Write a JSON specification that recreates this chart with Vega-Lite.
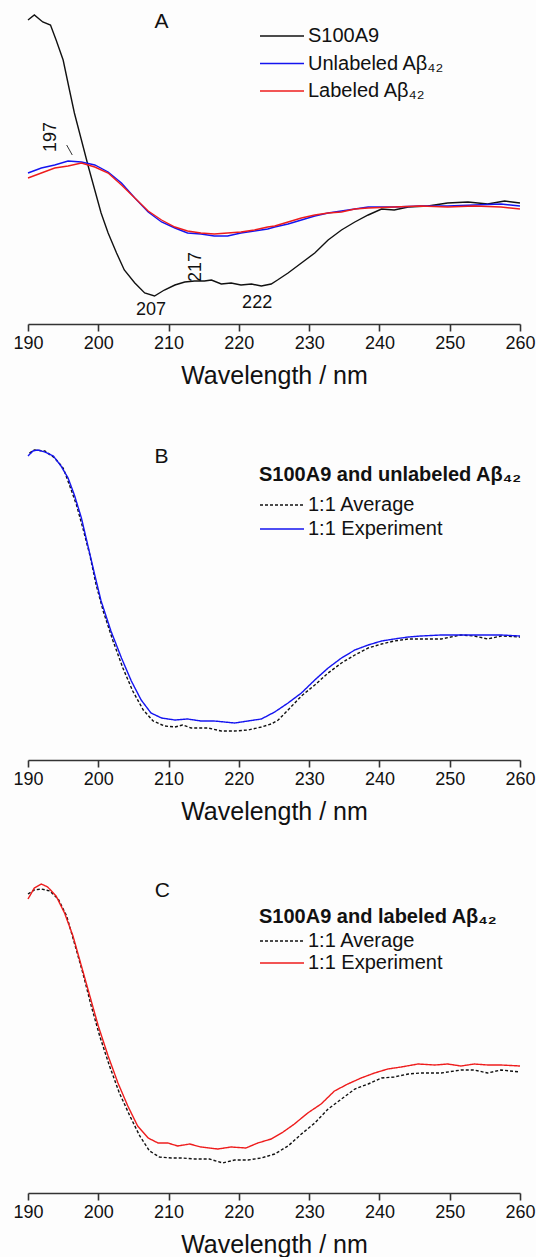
{
  "$schema": "https://vega.github.io/schema/vega-lite/v6.json",
  "padding": {"left": 12, "top": 4, "right": 0, "bottom": 0},
  "spacing": 52,
  "background": "#fdfdfd",
  "datasets": {
    "a": [
      {"nm": 190, "v": 18.4, "s": "S100A9"}, {"nm": 190.9, "v": 18.9, "s": "S100A9"}, {"nm": 192.1, "v": 18.2, "s": "S100A9"}, {"nm": 193.2, "v": 17.9, "s": "S100A9"}, {"nm": 194, "v": 16.4, "s": "S100A9"}, {"nm": 195, "v": 14.4, "s": "S100A9"}, {"nm": 195.9, "v": 11.4, "s": "S100A9"}, {"nm": 196.6, "v": 9.1, "s": "S100A9"}, {"nm": 197.6, "v": 6.4, "s": "S100A9"}, {"nm": 198.6, "v": 3.7, "s": "S100A9"}, {"nm": 199.5, "v": 1.4, "s": "S100A9"}, {"nm": 200.4, "v": -0.9, "s": "S100A9"}, {"nm": 201.4, "v": -2.9, "s": "S100A9"}, {"nm": 202.6, "v": -4.9, "s": "S100A9"}, {"nm": 203.7, "v": -6.6, "s": "S100A9"}, {"nm": 205.2, "v": -7.9, "s": "S100A9"}, {"nm": 206.6, "v": -8.9, "s": "S100A9"}, {"nm": 208, "v": -9.2, "s": "S100A9"}, {"nm": 209.4, "v": -8.6, "s": "S100A9"}, {"nm": 210.9, "v": -8.1, "s": "S100A9"}, {"nm": 212.3, "v": -7.8, "s": "S100A9"}, {"nm": 213.7, "v": -7.7, "s": "S100A9"}, {"nm": 215.1, "v": -7.7, "s": "S100A9"}, {"nm": 216.1, "v": -7.6, "s": "S100A9"}, {"nm": 217.5, "v": -8.0, "s": "S100A9"}, {"nm": 218.9, "v": -7.9, "s": "S100A9"}, {"nm": 220.3, "v": -8.1, "s": "S100A9"}, {"nm": 221.8, "v": -8.0, "s": "S100A9"}, {"nm": 223.2, "v": -8.2, "s": "S100A9"}, {"nm": 224.6, "v": -8.0, "s": "S100A9"}, {"nm": 225.5, "v": -7.6, "s": "S100A9"}, {"nm": 227, "v": -6.9, "s": "S100A9"}, {"nm": 228.9, "v": -5.9, "s": "S100A9"}, {"nm": 230.8, "v": -4.9, "s": "S100A9"}, {"nm": 232.7, "v": -3.6, "s": "S100A9"}, {"nm": 234.6, "v": -2.6, "s": "S100A9"}, {"nm": 236.5, "v": -1.8, "s": "S100A9"}, {"nm": 238.4, "v": -1.1, "s": "S100A9"}, {"nm": 240.3, "v": -0.5, "s": "S100A9"}, {"nm": 242.1, "v": -0.6, "s": "S100A9"}, {"nm": 244.1, "v": -0.3, "s": "S100A9"}, {"nm": 246.9, "v": -0.2, "s": "S100A9"}, {"nm": 249.7, "v": 0.1, "s": "S100A9"}, {"nm": 252.6, "v": 0.2, "s": "S100A9"}, {"nm": 255.4, "v": 0.0, "s": "S100A9"}, {"nm": 257.8, "v": 0.3, "s": "S100A9"}, {"nm": 260, "v": 0.1, "s": "S100A9"},
      {"nm": 190, "v": 3.1, "s": "Unlabeled Aβ₄₂"}, {"nm": 191.9, "v": 3.6, "s": "Unlabeled Aβ₄₂"}, {"nm": 193.8, "v": 3.9, "s": "Unlabeled Aβ₄₂"}, {"nm": 195.7, "v": 4.3, "s": "Unlabeled Aβ₄₂"}, {"nm": 197.6, "v": 4.2, "s": "Unlabeled Aβ₄₂"}, {"nm": 199.5, "v": 3.9, "s": "Unlabeled Aβ₄₂"}, {"nm": 201.4, "v": 3.2, "s": "Unlabeled Aβ₄₂"}, {"nm": 203.3, "v": 2.1, "s": "Unlabeled Aβ₄₂"}, {"nm": 205.2, "v": 0.6, "s": "Unlabeled Aβ₄₂"}, {"nm": 207.1, "v": -0.8, "s": "Unlabeled Aβ₄₂"}, {"nm": 209, "v": -1.8, "s": "Unlabeled Aβ₄₂"}, {"nm": 210.9, "v": -2.4, "s": "Unlabeled Aβ₄₂"}, {"nm": 212.7, "v": -2.9, "s": "Unlabeled Aβ₄₂"}, {"nm": 214.6, "v": -3.0, "s": "Unlabeled Aβ₄₂"}, {"nm": 216.5, "v": -3.2, "s": "Unlabeled Aβ₄₂"}, {"nm": 218.4, "v": -3.2, "s": "Unlabeled Aβ₄₂"}, {"nm": 220.3, "v": -2.9, "s": "Unlabeled Aβ₄₂"}, {"nm": 222.2, "v": -2.7, "s": "Unlabeled Aβ₄₂"}, {"nm": 224.1, "v": -2.5, "s": "Unlabeled Aβ₄₂"}, {"nm": 225.1, "v": -2.3, "s": "Unlabeled Aβ₄₂"}, {"nm": 227, "v": -2.0, "s": "Unlabeled Aβ₄₂"}, {"nm": 228.9, "v": -1.6, "s": "Unlabeled Aβ₄₂"}, {"nm": 230.8, "v": -1.2, "s": "Unlabeled Aβ₄₂"}, {"nm": 232.7, "v": -0.9, "s": "Unlabeled Aβ₄₂"}, {"nm": 234.6, "v": -0.7, "s": "Unlabeled Aβ₄₂"}, {"nm": 236.5, "v": -0.5, "s": "Unlabeled Aβ₄₂"}, {"nm": 238.4, "v": -0.3, "s": "Unlabeled Aβ₄₂"}, {"nm": 242.1, "v": -0.3, "s": "Unlabeled Aβ₄₂"}, {"nm": 245.9, "v": -0.2, "s": "Unlabeled Aβ₄₂"}, {"nm": 249.7, "v": -0.2, "s": "Unlabeled Aβ₄₂"}, {"nm": 253.5, "v": -0.1, "s": "Unlabeled Aβ₄₂"}, {"nm": 257.3, "v": 0.0, "s": "Unlabeled Aβ₄₂"}, {"nm": 260, "v": -0.2, "s": "Unlabeled Aβ₄₂"},
      {"nm": 190, "v": 2.6, "s": "Labeled Aβ₄₂"}, {"nm": 191.9, "v": 3.1, "s": "Labeled Aβ₄₂"}, {"nm": 193.8, "v": 3.6, "s": "Labeled Aβ₄₂"}, {"nm": 195.7, "v": 3.8, "s": "Labeled Aβ₄₂"}, {"nm": 197.6, "v": 4.1, "s": "Labeled Aβ₄₂"}, {"nm": 199.5, "v": 3.7, "s": "Labeled Aβ₄₂"}, {"nm": 201.4, "v": 3.1, "s": "Labeled Aβ₄₂"}, {"nm": 203.3, "v": 1.9, "s": "Labeled Aβ₄₂"}, {"nm": 205.2, "v": 0.6, "s": "Labeled Aβ₄₂"}, {"nm": 207.1, "v": -0.7, "s": "Labeled Aβ₄₂"}, {"nm": 209, "v": -1.6, "s": "Labeled Aβ₄₂"}, {"nm": 210.9, "v": -2.3, "s": "Labeled Aβ₄₂"}, {"nm": 212.7, "v": -2.7, "s": "Labeled Aβ₄₂"}, {"nm": 214.6, "v": -2.9, "s": "Labeled Aβ₄₂"}, {"nm": 216.5, "v": -3.0, "s": "Labeled Aβ₄₂"}, {"nm": 218.4, "v": -2.9, "s": "Labeled Aβ₄₂"}, {"nm": 220.3, "v": -2.8, "s": "Labeled Aβ₄₂"}, {"nm": 222.2, "v": -2.6, "s": "Labeled Aβ₄₂"}, {"nm": 224.1, "v": -2.3, "s": "Labeled Aβ₄₂"}, {"nm": 225.1, "v": -2.2, "s": "Labeled Aβ₄₂"}, {"nm": 227, "v": -1.8, "s": "Labeled Aβ₄₂"}, {"nm": 228.9, "v": -1.4, "s": "Labeled Aβ₄₂"}, {"nm": 230.8, "v": -1.1, "s": "Labeled Aβ₄₂"}, {"nm": 232.7, "v": -0.9, "s": "Labeled Aβ₄₂"}, {"nm": 234.6, "v": -0.8, "s": "Labeled Aβ₄₂"}, {"nm": 236.5, "v": -0.5, "s": "Labeled Aβ₄₂"}, {"nm": 238.4, "v": -0.4, "s": "Labeled Aβ₄₂"}, {"nm": 242.1, "v": -0.3, "s": "Labeled Aβ₄₂"}, {"nm": 245.9, "v": -0.2, "s": "Labeled Aβ₄₂"}, {"nm": 249.7, "v": -0.3, "s": "Labeled Aβ₄₂"}, {"nm": 253.5, "v": -0.2, "s": "Labeled Aβ₄₂"}, {"nm": 257.3, "v": -0.3, "s": "Labeled Aβ₄₂"}, {"nm": 260, "v": -0.5, "s": "Labeled Aβ₄₂"}
    ],
    "b": [
      {"nm": 190.2, "v": 18.7, "s": "1:1 Average"}, {"nm": 190.9, "v": 19.0, "s": "1:1 Average"}, {"nm": 192.4, "v": 18.9, "s": "1:1 Average"}, {"nm": 193.8, "v": 18.2, "s": "1:1 Average"}, {"nm": 195, "v": 17.2, "s": "1:1 Average"}, {"nm": 195.9, "v": 15.5, "s": "1:1 Average"}, {"nm": 196.9, "v": 13.5, "s": "1:1 Average"}, {"nm": 197.8, "v": 11.2, "s": "1:1 Average"}, {"nm": 198.8, "v": 8.5, "s": "1:1 Average"}, {"nm": 199.7, "v": 5.5, "s": "1:1 Average"}, {"nm": 200.7, "v": 2.9, "s": "1:1 Average"}, {"nm": 202.1, "v": -0.1, "s": "1:1 Average"}, {"nm": 203.5, "v": -2.8, "s": "1:1 Average"}, {"nm": 204.9, "v": -5.1, "s": "1:1 Average"}, {"nm": 206.4, "v": -7.0, "s": "1:1 Average"}, {"nm": 207.8, "v": -8.1, "s": "1:1 Average"}, {"nm": 209.4, "v": -8.6, "s": "1:1 Average"}, {"nm": 210.9, "v": -8.7, "s": "1:1 Average"}, {"nm": 212, "v": -8.5, "s": "1:1 Average"}, {"nm": 213.2, "v": -8.8, "s": "1:1 Average"}, {"nm": 215.6, "v": -8.8, "s": "1:1 Average"}, {"nm": 217.5, "v": -9.1, "s": "1:1 Average"}, {"nm": 219.4, "v": -9.1, "s": "1:1 Average"}, {"nm": 221.3, "v": -9.0, "s": "1:1 Average"}, {"nm": 223.2, "v": -8.7, "s": "1:1 Average"}, {"nm": 224.6, "v": -8.4, "s": "1:1 Average"}, {"nm": 225.6, "v": -8.0, "s": "1:1 Average"}, {"nm": 227, "v": -7.0, "s": "1:1 Average"}, {"nm": 228.9, "v": -5.6, "s": "1:1 Average"}, {"nm": 230.8, "v": -4.5, "s": "1:1 Average"}, {"nm": 232.7, "v": -3.3, "s": "1:1 Average"}, {"nm": 234.6, "v": -2.3, "s": "1:1 Average"}, {"nm": 236.5, "v": -1.5, "s": "1:1 Average"}, {"nm": 238.4, "v": -0.8, "s": "1:1 Average"}, {"nm": 240.3, "v": -0.4, "s": "1:1 Average"}, {"nm": 242.1, "v": -0.1, "s": "1:1 Average"}, {"nm": 244.1, "v": 0.1, "s": "1:1 Average"}, {"nm": 245.9, "v": 0.1, "s": "1:1 Average"}, {"nm": 248.8, "v": 0.1, "s": "1:1 Average"}, {"nm": 251.6, "v": 0.5, "s": "1:1 Average"}, {"nm": 253.5, "v": 0.4, "s": "1:1 Average"}, {"nm": 255.4, "v": 0.1, "s": "1:1 Average"}, {"nm": 257.3, "v": 0.4, "s": "1:1 Average"}, {"nm": 260, "v": 0.3, "s": "1:1 Average"},
      {"nm": 190, "v": 18.4, "s": "1:1 Experiment"}, {"nm": 190.7, "v": 18.9, "s": "1:1 Experiment"}, {"nm": 191.4, "v": 19.0, "s": "1:1 Experiment"}, {"nm": 192.4, "v": 18.8, "s": "1:1 Experiment"}, {"nm": 193.6, "v": 18.4, "s": "1:1 Experiment"}, {"nm": 194.7, "v": 17.4, "s": "1:1 Experiment"}, {"nm": 195.7, "v": 16.2, "s": "1:1 Experiment"}, {"nm": 196.6, "v": 14.5, "s": "1:1 Experiment"}, {"nm": 197.6, "v": 12.2, "s": "1:1 Experiment"}, {"nm": 198.5, "v": 9.5, "s": "1:1 Experiment"}, {"nm": 199.5, "v": 6.5, "s": "1:1 Experiment"}, {"nm": 200.4, "v": 3.9, "s": "1:1 Experiment"}, {"nm": 201.8, "v": 0.9, "s": "1:1 Experiment"}, {"nm": 203.3, "v": -1.8, "s": "1:1 Experiment"}, {"nm": 204.7, "v": -4.1, "s": "1:1 Experiment"}, {"nm": 206.1, "v": -6.0, "s": "1:1 Experiment"}, {"nm": 207.5, "v": -7.3, "s": "1:1 Experiment"}, {"nm": 209, "v": -7.8, "s": "1:1 Experiment"}, {"nm": 210.9, "v": -8.0, "s": "1:1 Experiment"}, {"nm": 212.7, "v": -7.9, "s": "1:1 Experiment"}, {"nm": 214.6, "v": -8.1, "s": "1:1 Experiment"}, {"nm": 216.5, "v": -8.1, "s": "1:1 Experiment"}, {"nm": 219.4, "v": -8.3, "s": "1:1 Experiment"}, {"nm": 221.3, "v": -8.1, "s": "1:1 Experiment"}, {"nm": 223.2, "v": -7.9, "s": "1:1 Experiment"}, {"nm": 225.1, "v": -7.2, "s": "1:1 Experiment"}, {"nm": 227, "v": -6.3, "s": "1:1 Experiment"}, {"nm": 228.9, "v": -5.3, "s": "1:1 Experiment"}, {"nm": 230.8, "v": -4.0, "s": "1:1 Experiment"}, {"nm": 232.7, "v": -2.8, "s": "1:1 Experiment"}, {"nm": 234.6, "v": -1.8, "s": "1:1 Experiment"}, {"nm": 236.5, "v": -1.0, "s": "1:1 Experiment"}, {"nm": 238.4, "v": -0.5, "s": "1:1 Experiment"}, {"nm": 240.3, "v": -0.1, "s": "1:1 Experiment"}, {"nm": 242.1, "v": 0.1, "s": "1:1 Experiment"}, {"nm": 244.1, "v": 0.3, "s": "1:1 Experiment"}, {"nm": 245.9, "v": 0.4, "s": "1:1 Experiment"}, {"nm": 248.8, "v": 0.5, "s": "1:1 Experiment"}, {"nm": 251.6, "v": 0.5, "s": "1:1 Experiment"}, {"nm": 254.5, "v": 0.5, "s": "1:1 Experiment"}, {"nm": 257.3, "v": 0.5, "s": "1:1 Experiment"}, {"nm": 260, "v": 0.4, "s": "1:1 Experiment"}
    ],
    "c": [
      {"nm": 190, "v": 17.9, "s": "1:1 Average"}, {"nm": 190.9, "v": 18.3, "s": "1:1 Average"}, {"nm": 191.9, "v": 18.4, "s": "1:1 Average"}, {"nm": 193.1, "v": 18.2, "s": "1:1 Average"}, {"nm": 194.3, "v": 17.4, "s": "1:1 Average"}, {"nm": 195.5, "v": 15.7, "s": "1:1 Average"}, {"nm": 196.6, "v": 13.0, "s": "1:1 Average"}, {"nm": 197.8, "v": 10.0, "s": "1:1 Average"}, {"nm": 199, "v": 6.7, "s": "1:1 Average"}, {"nm": 200.2, "v": 3.7, "s": "1:1 Average"}, {"nm": 201.6, "v": 0.7, "s": "1:1 Average"}, {"nm": 203, "v": -2.0, "s": "1:1 Average"}, {"nm": 204.5, "v": -4.3, "s": "1:1 Average"}, {"nm": 205.9, "v": -6.3, "s": "1:1 Average"}, {"nm": 207.3, "v": -7.8, "s": "1:1 Average"}, {"nm": 208.7, "v": -8.4, "s": "1:1 Average"}, {"nm": 210.4, "v": -8.5, "s": "1:1 Average"}, {"nm": 212, "v": -8.5, "s": "1:1 Average"}, {"nm": 213.7, "v": -8.6, "s": "1:1 Average"}, {"nm": 215.8, "v": -8.6, "s": "1:1 Average"}, {"nm": 217.7, "v": -9.0, "s": "1:1 Average"}, {"nm": 219.4, "v": -8.7, "s": "1:1 Average"}, {"nm": 221.3, "v": -8.7, "s": "1:1 Average"}, {"nm": 223.2, "v": -8.5, "s": "1:1 Average"}, {"nm": 225.1, "v": -8.1, "s": "1:1 Average"}, {"nm": 227, "v": -7.3, "s": "1:1 Average"}, {"nm": 228.9, "v": -6.1, "s": "1:1 Average"}, {"nm": 230.8, "v": -5.0, "s": "1:1 Average"}, {"nm": 232.7, "v": -3.6, "s": "1:1 Average"}, {"nm": 234.6, "v": -2.6, "s": "1:1 Average"}, {"nm": 236.5, "v": -1.6, "s": "1:1 Average"}, {"nm": 238.4, "v": -1.1, "s": "1:1 Average"}, {"nm": 240.3, "v": -0.5, "s": "1:1 Average"}, {"nm": 242.1, "v": -0.4, "s": "1:1 Average"}, {"nm": 244.1, "v": -0.1, "s": "1:1 Average"}, {"nm": 245.9, "v": 0.0, "s": "1:1 Average"}, {"nm": 248.8, "v": 0.0, "s": "1:1 Average"}, {"nm": 251.6, "v": 0.3, "s": "1:1 Average"}, {"nm": 253.5, "v": 0.3, "s": "1:1 Average"}, {"nm": 255.4, "v": 0.0, "s": "1:1 Average"}, {"nm": 257.3, "v": 0.3, "s": "1:1 Average"}, {"nm": 260, "v": 0.1, "s": "1:1 Average"},
      {"nm": 190, "v": 17.4, "s": "1:1 Experiment"}, {"nm": 190.9, "v": 18.5, "s": "1:1 Experiment"}, {"nm": 191.9, "v": 18.9, "s": "1:1 Experiment"}, {"nm": 192.8, "v": 18.6, "s": "1:1 Experiment"}, {"nm": 194, "v": 17.7, "s": "1:1 Experiment"}, {"nm": 195.2, "v": 16.0, "s": "1:1 Experiment"}, {"nm": 196.4, "v": 13.7, "s": "1:1 Experiment"}, {"nm": 197.6, "v": 10.7, "s": "1:1 Experiment"}, {"nm": 198.8, "v": 7.7, "s": "1:1 Experiment"}, {"nm": 200, "v": 4.7, "s": "1:1 Experiment"}, {"nm": 201.4, "v": 1.7, "s": "1:1 Experiment"}, {"nm": 202.8, "v": -1.0, "s": "1:1 Experiment"}, {"nm": 204.2, "v": -3.3, "s": "1:1 Experiment"}, {"nm": 205.6, "v": -5.3, "s": "1:1 Experiment"}, {"nm": 207.1, "v": -6.5, "s": "1:1 Experiment"}, {"nm": 208.5, "v": -7.0, "s": "1:1 Experiment"}, {"nm": 209.9, "v": -7.0, "s": "1:1 Experiment"}, {"nm": 211.3, "v": -7.3, "s": "1:1 Experiment"}, {"nm": 213, "v": -7.1, "s": "1:1 Experiment"}, {"nm": 214.6, "v": -7.4, "s": "1:1 Experiment"}, {"nm": 217, "v": -7.6, "s": "1:1 Experiment"}, {"nm": 218.9, "v": -7.4, "s": "1:1 Experiment"}, {"nm": 221, "v": -7.5, "s": "1:1 Experiment"}, {"nm": 222.7, "v": -7.0, "s": "1:1 Experiment"}, {"nm": 224.6, "v": -6.6, "s": "1:1 Experiment"}, {"nm": 226.3, "v": -5.9, "s": "1:1 Experiment"}, {"nm": 227.9, "v": -5.1, "s": "1:1 Experiment"}, {"nm": 229.8, "v": -4.0, "s": "1:1 Experiment"}, {"nm": 231.7, "v": -3.1, "s": "1:1 Experiment"}, {"nm": 233.6, "v": -1.8, "s": "1:1 Experiment"}, {"nm": 235.5, "v": -1.1, "s": "1:1 Experiment"}, {"nm": 237.4, "v": -0.5, "s": "1:1 Experiment"}, {"nm": 239.3, "v": 0.0, "s": "1:1 Experiment"}, {"nm": 241.2, "v": 0.4, "s": "1:1 Experiment"}, {"nm": 243.1, "v": 0.6, "s": "1:1 Experiment"}, {"nm": 245.5, "v": 0.9, "s": "1:1 Experiment"}, {"nm": 247.9, "v": 0.8, "s": "1:1 Experiment"}, {"nm": 249.7, "v": 0.9, "s": "1:1 Experiment"}, {"nm": 251.6, "v": 0.7, "s": "1:1 Experiment"}, {"nm": 253.5, "v": 0.9, "s": "1:1 Experiment"}, {"nm": 255.4, "v": 0.8, "s": "1:1 Experiment"}, {"nm": 257.3, "v": 0.8, "s": "1:1 Experiment"}, {"nm": 260, "v": 0.7, "s": "1:1 Experiment"}
    ],
    "labA": [{"nm": 207.5, "v": -10.6, "t": "207"}, {"nm": 222.6, "v": -9.9, "t": "222"}],
    "rotA": [{"nm": 193.3, "v": 6.7, "t": "197"}, {"nm": 213.9, "v": -6.3, "t": "217"}],
    "leadA": [{"nm": 195.5, "v": 5.9, "nm2": 196.3, "v2": 4.9}],
    "pA": [{"nm": 209, "v": 18.2, "t": "A"}],
    "pB": [{"nm": 209, "v": 18.3, "t": "B"}],
    "pC": [{"nm": 209.1, "v": 18.2, "t": "C"}]
  },
  "vconcat": [
    {
      "width": 492,
      "height": 320,
      "layer": [
        {
          "data": {"name": "a"},
          "mark": {"type": "line", "strokeWidth": 1.4},
          "encoding": {
            "x": {"field": "nm", "type": "quantitative", "scale": {"domain": [190, 260], "nice": false, "zero": false}, "axis": {"values": [190, 200, 210, 220, 230, 240, 250, 260], "title": "Wavelength / nm"}},
            "y": {"field": "v", "type": "quantitative", "scale": {"domain": [-12, 20], "nice": false, "zero": false}, "axis": null},
            "color": {"field": "s", "type": "nominal", "sort": null, "scale": {"domain": ["S100A9", "Unlabeled Aβ₄₂", "Labeled Aβ₄₂"], "range": ["#111111", "#1414f0", "#ee1c1c"]}, "legend": {"title": null, "orient": "none", "legendX": 231, "legendY": 20, "rowPadding": 5.5}}
          }
        },
        {
          "data": {"name": "labA"},
          "mark": {"type": "text", "fontSize": 18, "color": "#111111", "font": "Liberation Sans"},
          "encoding": {"x": {"field": "nm", "type": "quantitative"}, "y": {"field": "v", "type": "quantitative"}, "text": {"field": "t"}}
        },
        {
          "data": {"name": "rotA"},
          "mark": {"type": "text", "fontSize": 18, "color": "#111111", "font": "Liberation Sans", "angle": 270},
          "encoding": {"x": {"field": "nm", "type": "quantitative"}, "y": {"field": "v", "type": "quantitative"}, "text": {"field": "t"}}
        },
        {
          "data": {"name": "leadA"},
          "mark": {"type": "rule", "color": "#333333", "strokeWidth": 1},
          "encoding": {"x": {"field": "nm", "type": "quantitative"}, "x2": {"field": "nm2"}, "y": {"field": "v", "type": "quantitative"}, "y2": {"field": "v2"}}
        },
        {
          "data": {"name": "pA"},
          "mark": {"type": "text", "fontSize": 21, "color": "#111111", "font": "Liberation Sans"},
          "encoding": {"x": {"field": "nm", "type": "quantitative"}, "y": {"field": "v", "type": "quantitative"}, "text": {"field": "t"}}
        }
      ]
    },
    {
      "width": 492,
      "height": 320,
      "layer": [
        {
          "data": {"name": "b"},
          "mark": {"type": "line", "strokeWidth": 1.4},
          "encoding": {
            "x": {"field": "nm", "type": "quantitative", "scale": {"domain": [190, 260], "nice": false, "zero": false}, "axis": {"values": [190, 200, 210, 220, 230, 240, 250, 260], "title": "Wavelength / nm"}},
            "y": {"field": "v", "type": "quantitative", "scale": {"domain": [-12, 20], "nice": false, "zero": false}, "axis": null},
            "color": {"field": "s", "type": "nominal", "sort": null, "scale": {"domain": ["1:1 Average", "1:1 Experiment"], "range": ["#111111", "#1414f0"]}, "legend": {"title": "S100A9 and unlabeled Aβ₄₂", "orient": "none", "legendX": 231, "legendY": 25, "rowPadding": 2, "titlePadding": 8}},
            "strokeDash": {"field": "s", "type": "nominal", "sort": null, "scale": {"domain": ["1:1 Average", "1:1 Experiment"], "range": [[3, 2], [1, 0]]}, "legend": {"title": "S100A9 and unlabeled Aβ₄₂", "orient": "none", "legendX": 231, "legendY": 25, "rowPadding": 2, "titlePadding": 8}}
          }
        },
        {
          "data": {"name": "pB"},
          "mark": {"type": "text", "fontSize": 21, "color": "#111111", "font": "Liberation Sans"},
          "encoding": {"x": {"field": "nm", "type": "quantitative"}, "y": {"field": "v", "type": "quantitative"}, "text": {"field": "t"}}
        }
      ]
    },
    {
      "width": 492,
      "height": 317,
      "layer": [
        {
          "data": {"name": "c"},
          "mark": {"type": "line", "strokeWidth": 1.4},
          "encoding": {
            "x": {"field": "nm", "type": "quantitative", "scale": {"domain": [190, 260], "nice": false, "zero": false}, "axis": {"values": [190, 200, 210, 220, 230, 240, 250, 260], "title": "Wavelength / nm"}},
            "y": {"field": "v", "type": "quantitative", "scale": {"domain": [-12, 19.7], "nice": false, "zero": false}, "axis": null},
            "color": {"field": "s", "type": "nominal", "sort": null, "scale": {"domain": ["1:1 Average", "1:1 Experiment"], "range": ["#111111", "#ee1c1c"]}, "legend": {"title": "S100A9 and labeled Aβ₄₂", "orient": "none", "legendX": 231, "legendY": 31, "rowPadding": 0, "titlePadding": 2}},
            "strokeDash": {"field": "s", "type": "nominal", "sort": null, "scale": {"domain": ["1:1 Average", "1:1 Experiment"], "range": [[3, 2], [1, 0]]}, "legend": {"title": "S100A9 and labeled Aβ₄₂", "orient": "none", "legendX": 231, "legendY": 31, "rowPadding": 0, "titlePadding": 2}}
          }
        },
        {
          "data": {"name": "pC"},
          "mark": {"type": "text", "fontSize": 21, "color": "#111111", "font": "Liberation Sans"},
          "encoding": {"x": {"field": "nm", "type": "quantitative"}, "y": {"field": "v", "type": "quantitative"}, "text": {"field": "t"}}
        }
      ]
    }
  ],
  "resolve": {
    "scale": {"color": "independent", "strokeDash": "independent", "x": "independent", "y": "independent"},
    "legend": {"color": "independent", "strokeDash": "independent"}
  },
  "config": {
    "font": "Liberation Sans",
    "view": {"stroke": null},
    "axis": {
      "grid": false,
      "domainColor": "#333333",
      "domainWidth": 1.6,
      "tickColor": "#333333",
      "tickWidth": 1.6,
      "tickSize": 7,
      "labelFont": "Liberation Sans",
      "labelFontSize": 18,
      "labelColor": "#111111",
      "labelPadding": 3,
      "labelFlush": false,
      "labelOverlap": false,
      "titleFont": "Liberation Sans",
      "titleFontSize": 25,
      "titleFontWeight": "normal",
      "titleColor": "#111111",
      "titlePadding": 11
    },
    "legend": {
      "symbolType": "M-1,0H3",
      "symbolSize": 484,
      "symbolStrokeWidth": 1.4,
      "symbolFillColor": "transparent",
      "labelFont": "Liberation Sans",
      "labelFontSize": 20,
      "labelColor": "#111111",
      "labelOffset": 25,
      "labelLimit": 400,
      "titleFont": "Liberation Sans",
      "titleFontSize": 20,
      "titleFontWeight": "bold",
      "titleColor": "#111111",
      "titleLimit": 400,
      "padding": 0,
      "offset": 0
    }
  }
}
